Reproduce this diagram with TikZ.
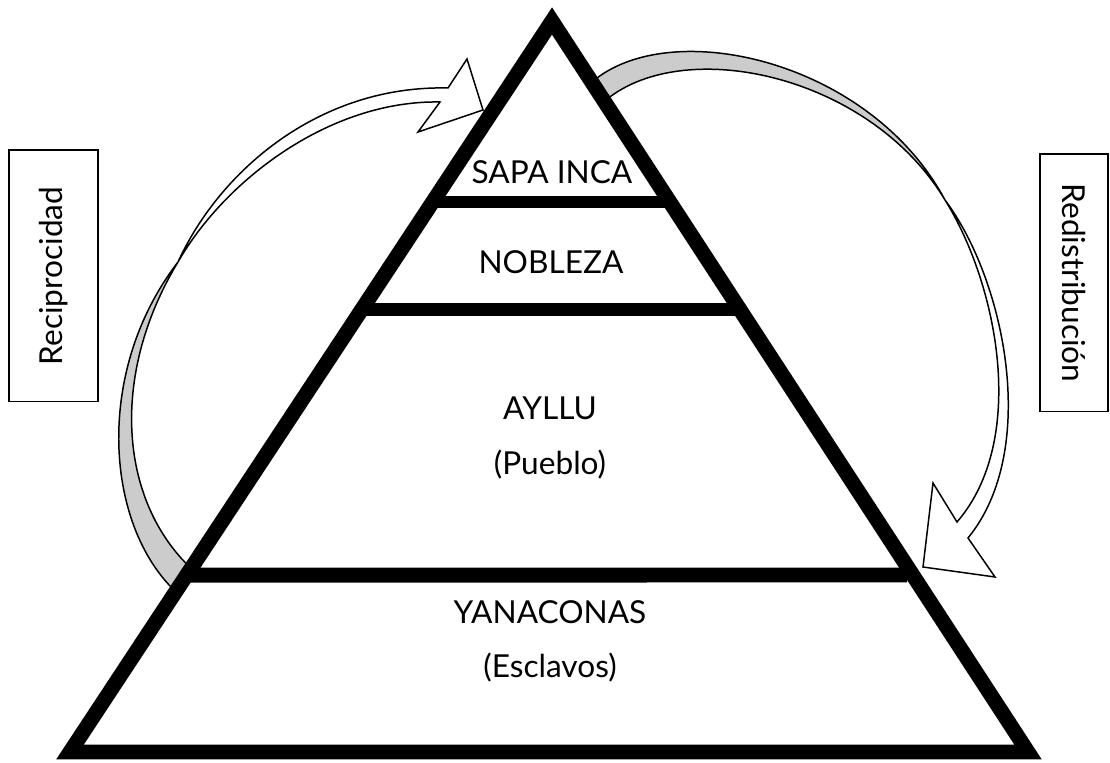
\documentclass[tikz,border=0pt]{standalone}
\usepackage{fontspec}
\setmainfont{Lato}
\usepackage{tikz}
\usetikzlibrary{calc}
\tikzset{
  pyramid/.style={line width=8.5pt, line join=miter},
  layerbar/.style={line width=#1},
  level/.style={font=\fontsize{18}{22}\selectfont, inner sep=0pt},
  tag/.style={draw, line width=0.6pt, font=\fontsize{18}{22}\selectfont},
  twist/.style={draw, line width=0.85pt, line join=miter},
}
\begin{document}
\begin{tikzpicture}[x=0.02cm,y=-0.02cm]
\useasboundingbox (0,0) rectangle (1110,763);
% vertices
\coordinate (apex) at (552,21);
\coordinate (lcorner) at (70,752);
\coordinate (rcorner) at (1028,752);
% reciprocidad arrow
\filldraw[twist, fill=black!20] (172,588) .. controls (105,520) and (95,370) .. (178,262)
  .. controls (108,378) and (120,505) .. (195,572) -- cycle;
\filldraw[twist, fill=white] (178,262) .. controls (220,170) and (320,85) .. (448,88)
  -- (467,59) -- (483,110) -- (418,132) -- (440,102)
  .. controls (330,100) and (225,180) .. (178,262) -- cycle;
% redistribucion arrow
\filldraw[twist, fill=black!20] (592,82) .. controls (670,15) and (870,60) .. (945,200)
  .. controls (870,75) and (685,35) .. (606,100) -- cycle;
\filldraw[twist, fill=white] (945,200) .. controls (1005,280) and (1040,450) .. (968,538)
  -- (995,577) -- (923,567) -- (933,483) -- (957,522)
  .. controls (1028,440) and (998,285) .. (945,200) -- cycle;
% pyramid
\draw[pyramid] (apex) -- (lcorner) -- (rcorner) -- cycle;
\draw[layerbar=6.8pt] ($(apex)!0.2476!(lcorner)$) -- ($(apex)!0.2476!(rcorner)$);
\draw[layerbar=7.4pt] ($(apex)!0.395!(lcorner)$) -- ($(apex)!0.395!(rcorner)$);
\draw[layerbar=8.5pt] ($(apex)!0.758!(lcorner)$) -- (907,575);
% levels
\node[level] (sapa) at (552,172) {SAPA INCA};
\node[level] (nobleza) at (551,262) {NOBLEZA};
\node[level] (ayllu) at (550,408) {AYLLU};
\node[level] (pueblo) at (550,465) {(Pueblo)};
\node[level] (yana) at (550,612) {YANACONAS};
\node[level] (esclavos) at (550,668) {(Esclavos)};
% side labels
\node[tag, rotate=90, minimum width=5.04cm, minimum height=1.78cm] (recip) at (53.5,276) {Reciprocidad};
\node[tag, rotate=-90, minimum width=5.16cm, minimum height=1.36cm] (redis) at (1074,283) {Redistribución};
\end{tikzpicture}
\end{document}
